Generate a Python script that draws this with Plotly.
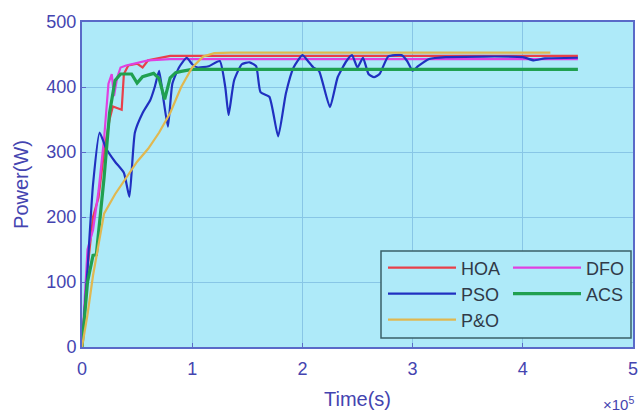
import plotly.graph_objects as go

# x in units of 1e5 s, y in W
hoa_x = [0, 0.05, 0.1, 0.15, 0.2, 0.25, 0.28, 0.32, 0.36, 0.38, 0.42, 0.5, 0.55, 0.6, 0.7, 0.8, 1.0, 1.2, 4.5]
hoa_y = [0, 120, 200, 230, 300, 350, 370, 368, 365, 420, 433, 436, 430, 441, 445, 448, 448, 448, 448]

dfo_x = [0, 0.05, 0.1, 0.15, 0.2, 0.24, 0.27, 0.29, 0.32, 0.35, 0.4, 0.5, 0.6, 0.8, 4.5]
dfo_y = [0, 150, 180, 240, 320, 405, 420, 386, 415, 430, 433, 437, 441, 443, 443]

pso_x = [0, 0.05, 0.1, 0.16, 0.22, 0.3, 0.38, 0.43, 0.48, 0.55, 0.62, 0.66, 0.7, 0.74, 0.78, 0.82, 0.88, 0.95, 1.0, 1.05, 1.15,
         1.25, 1.3, 1.33, 1.38, 1.45, 1.52, 1.58, 1.62, 1.7, 1.78, 1.85, 1.92, 2.0, 2.05, 2.1, 2.15, 2.25, 2.32, 2.4, 2.45,
         2.5, 2.55, 2.6, 2.65, 2.7, 2.78, 2.9, 2.95, 3.0, 3.05, 3.15, 3.3, 4.0, 4.1, 4.2, 4.5]
pso_y = [0, 120, 250, 330, 305, 285, 268, 231, 330, 360, 380, 400, 425, 380, 339, 405, 430, 445, 435, 430, 432,
         440, 400, 357, 410, 435, 438, 432, 392, 385, 324, 390, 430, 449, 440, 430, 425, 369, 415, 440, 449,
         430, 445, 420, 415, 420, 447, 449, 440, 425, 432, 443, 446, 446, 441, 444, 445]

acs_x = [0, 0.05, 0.1, 0.13, 0.2, 0.25, 0.3, 0.35, 0.45, 0.5, 0.55, 0.65, 0.7, 0.75, 0.8, 0.85, 0.9, 1.0, 4.5]
acs_y = [0, 100, 141, 142, 260, 360, 410, 420, 420, 406, 416, 421, 413, 381, 414, 422, 424, 427, 427]

po_x = [0, 0.05, 0.1, 0.15, 0.2, 0.3, 0.4, 0.5, 0.6, 0.7, 0.8, 0.9, 1.0, 1.1, 1.2, 1.35, 4.25]
po_y = [0, 50, 110, 160, 205, 235, 260, 285, 305, 330, 360, 400, 430, 447, 452, 453, 453]

x_ticks = [0, 1, 2, 3, 4, 5]
y_ticks = [0, 100, 200, 300, 400, 500]

BG = "#aeeaf9"
TXT = "#4444b0"
FONT = "Liberation Sans"

fig = go.Figure()
fig.add_trace(go.Scatter(x=hoa_x, y=hoa_y, name="HOA", mode="lines", legend="legend",
                         line=dict(color="#e8404a", width=2.2)))
fig.add_trace(go.Scatter(x=dfo_x, y=dfo_y, name="DFO", mode="lines", legend="legend2",
                         line=dict(color="#e040e0", width=2.2)))
fig.add_trace(go.Scatter(x=pso_x, y=pso_y, name="PSO", mode="lines", legend="legend3",
                         line=dict(color="#2030c0", width=2.2, shape="spline", smoothing=0.5)))
fig.add_trace(go.Scatter(x=acs_x, y=acs_y, name="ACS", mode="lines", legend="legend4",
                         line=dict(color="#20a050", width=3.2)))
fig.add_trace(go.Scatter(x=po_x, y=po_y, name="P&O", mode="lines", legend="legend5",
                         line=dict(color="#e0b850", width=2.2)))

L, R, T, B = 82, 7, 22, 70
W, H = 640, 417
pw, ph = W - L - R, H - T - B

def px_x(p):
    return (p - L) / pw

def px_y(p):
    return (H - B - p) / ph

leg_font = dict(family=FONT, size=18, color="#303a48")

def leg(xp, yp):
    return dict(x=px_x(xp), y=px_y(yp), xanchor="left", yanchor="middle",
                bgcolor="rgba(0,0,0,0)", borderwidth=0, font=leg_font, itemwidth=68)

tick_font = dict(family=FONT, size=18, color=TXT)
title_font = dict(family=FONT, size=20, color=TXT)

fig.update_layout(
    width=W, height=H,
    margin=dict(l=L, r=R, t=T, b=B),
    paper_bgcolor="white",
    plot_bgcolor=BG,
    showlegend=True,
    legend=leg(383, 268),
    legend2=leg(508, 268),
    legend3=leg(383, 294),
    legend4=leg(508, 294),
    legend5=leg(383, 320),
    xaxis=dict(
        range=[0, 5], tickvals=x_ticks, tickfont=tick_font, automargin=False,
        title=dict(text="Time(s)", font=title_font, standoff=14),
        showgrid=True, gridcolor="#88c6e6", gridwidth=1,
        showline=True, linecolor="#5a6ac8", linewidth=2, mirror=True,
        ticks="inside", ticklen=4, tickcolor="#5a6ac8", zeroline=False,
        ticklabelstandoff=4,
    ),
    yaxis=dict(
        range=[0, 500], tickvals=y_ticks, tickfont=tick_font, automargin=False,
        title=dict(text="Power(W)", font=title_font, standoff=12),
        showgrid=True, gridcolor="#88c6e6", gridwidth=1,
        showline=True, linecolor="#5a6ac8", linewidth=2, mirror=True,
        ticks="inside", ticklen=4, tickcolor="#5a6ac8", zeroline=False,
    ),
)

# legend frame
fig.add_shape(type="rect", xref="paper", yref="paper",
              x0=px_x(381), x1=px_x(631), y0=px_y(338), y1=px_y(251),
              fillcolor=BG, line=dict(color="#3a6068", width=1.5), layer="above")

fig.add_annotation(text="×10<sup>5</sup>", xref="paper", yref="paper", x=1.0, y=0,
                   xanchor="right", yanchor="middle", yshift=-56, xshift=3, showarrow=False,
                   font=dict(family=FONT, size=15, color=TXT))

fig.write_html("out.html", config={"displayModeBar": False},
               post_script="document.body.style.margin='0';")
